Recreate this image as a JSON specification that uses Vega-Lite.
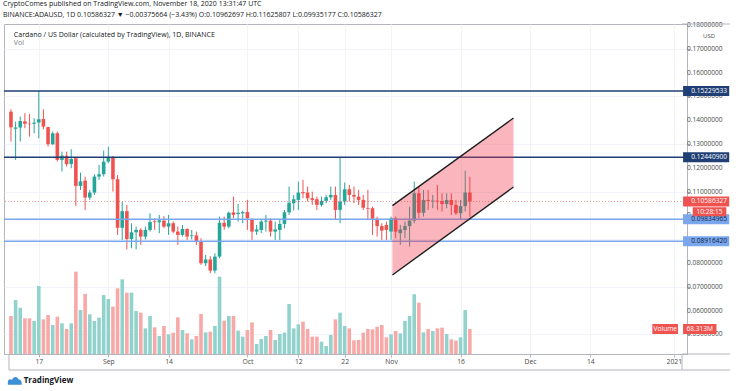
{
  "$schema": "https://vega.github.io/schema/vega-lite/v6.json",
  "width": 683,
  "height": 330,
  "autosize": "none",
  "padding": {"left": 4, "top": 24, "right": 49, "bottom": 37},
  "background": "white",
  "config": {
    "view": {"stroke": "#b2b5be", "strokeWidth": 1},
    "font": "Open Sans",
    "text": {"font": "Open Sans"}
  },
  "title": {
    "text": "CryptoComes published on TradingView.com, November 18, 2020 13:31:47 UTC",
    "subtitle": "BINANCE:ADAUSD, 1D  0.10586327 ▼ −0.00375664 (−3.43%)  O:0.10962697  H:0.11625807  L:0.09935177  C:0.10586327",
    "anchor": "start",
    "frame": "group",
    "font": "Open Sans",
    "fontSize": 7,
    "fontWeight": "normal",
    "color": "#131722",
    "subtitleFont": "Open Sans",
    "subtitleFontSize": 7,
    "subtitleColor": "#131722",
    "subtitlePadding": 3.5,
    "offset": 4,
    "dx": -1
  },
  "datasets": {
    "ohlc": [
      {"d": "2020-08-11", "o": 0.1436, "h": 0.1446, "l": 0.1310, "c": 0.1370, "v": 103.9},
      {"d": "2020-08-12", "o": 0.1364, "h": 0.1394, "l": 0.1233, "c": 0.1369, "v": 147.6},
      {"d": "2020-08-13", "o": 0.1369, "h": 0.1415, "l": 0.1310, "c": 0.1397, "v": 126.6},
      {"d": "2020-08-14", "o": 0.1395, "h": 0.1429, "l": 0.1366, "c": 0.1385, "v": 97.5},
      {"d": "2020-08-15", "o": 0.1385, "h": 0.1426, "l": 0.1331, "c": 0.1383, "v": 97.5},
      {"d": "2020-08-16", "o": 0.1385, "h": 0.1408, "l": 0.1345, "c": 0.1390, "v": 90.2},
      {"d": "2020-08-17", "o": 0.1390, "h": 0.1523, "l": 0.1324, "c": 0.1404, "v": 185.8},
      {"d": "2020-08-18", "o": 0.1405, "h": 0.1446, "l": 0.1362, "c": 0.1373, "v": 94.7},
      {"d": "2020-08-19", "o": 0.1371, "h": 0.1373, "l": 0.1289, "c": 0.1299, "v": 106.6},
      {"d": "2020-08-20", "o": 0.1299, "h": 0.1352, "l": 0.1296, "c": 0.1345, "v": 79.3},
      {"d": "2020-08-21", "o": 0.1345, "h": 0.1352, "l": 0.1226, "c": 0.1233, "v": 102.0},
      {"d": "2020-08-22", "o": 0.1233, "h": 0.1268, "l": 0.1184, "c": 0.1251, "v": 83.8},
      {"d": "2020-08-23", "o": 0.1251, "h": 0.1268, "l": 0.1205, "c": 0.1215, "v": 68.3},
      {"d": "2020-08-24", "o": 0.1216, "h": 0.1278, "l": 0.1198, "c": 0.1237, "v": 83.8},
      {"d": "2020-08-25", "o": 0.1240, "h": 0.1244, "l": 0.1039, "c": 0.1124, "v": 225.0},
      {"d": "2020-08-26", "o": 0.1124, "h": 0.1180, "l": 0.1107, "c": 0.1143, "v": 120.3},
      {"d": "2020-08-27", "o": 0.1146, "h": 0.1163, "l": 0.1023, "c": 0.1075, "v": 164.0},
      {"d": "2020-08-28", "o": 0.1075, "h": 0.1107, "l": 0.1065, "c": 0.1096, "v": 108.4},
      {"d": "2020-08-29", "o": 0.1096, "h": 0.1173, "l": 0.1086, "c": 0.1163, "v": 90.2},
      {"d": "2020-08-30", "o": 0.1163, "h": 0.1212, "l": 0.1149, "c": 0.1173, "v": 99.3},
      {"d": "2020-08-31", "o": 0.1173, "h": 0.1272, "l": 0.1163, "c": 0.1226, "v": 161.2},
      {"d": "2020-09-01", "o": 0.1226, "h": 0.1289, "l": 0.1219, "c": 0.1244, "v": 150.3},
      {"d": "2020-09-02", "o": 0.1244, "h": 0.1250, "l": 0.1100, "c": 0.1152, "v": 129.4},
      {"d": "2020-09-03", "o": 0.1152, "h": 0.1170, "l": 0.0918, "c": 0.0948, "v": 179.5},
      {"d": "2020-09-04", "o": 0.0948, "h": 0.1058, "l": 0.0897, "c": 0.1018, "v": 204.1},
      {"d": "2020-09-05", "o": 0.1018, "h": 0.1044, "l": 0.0857, "c": 0.0901, "v": 167.6},
      {"d": "2020-09-06", "o": 0.0901, "h": 0.0967, "l": 0.0862, "c": 0.0929, "v": 167.6},
      {"d": "2020-09-07", "o": 0.0929, "h": 0.0953, "l": 0.0857, "c": 0.0939, "v": 117.5},
      {"d": "2020-09-08", "o": 0.0939, "h": 0.0946, "l": 0.0876, "c": 0.0911, "v": 113.0},
      {"d": "2020-09-09", "o": 0.0911, "h": 0.0953, "l": 0.0899, "c": 0.0939, "v": 70.1},
      {"d": "2020-09-10", "o": 0.0939, "h": 0.1009, "l": 0.0932, "c": 0.0972, "v": 103.9},
      {"d": "2020-09-11", "o": 0.0975, "h": 0.0988, "l": 0.0939, "c": 0.0972, "v": 72.9},
      {"d": "2020-09-12", "o": 0.0971, "h": 0.1002, "l": 0.0925, "c": 0.0979, "v": 49.2},
      {"d": "2020-09-13", "o": 0.0978, "h": 0.0997, "l": 0.0946, "c": 0.0953, "v": 76.5},
      {"d": "2020-09-14", "o": 0.0953, "h": 0.1002, "l": 0.0918, "c": 0.0967, "v": 53.7},
      {"d": "2020-09-15", "o": 0.0967, "h": 0.0974, "l": 0.0925, "c": 0.0932, "v": 58.3},
      {"d": "2020-09-16", "o": 0.0932, "h": 0.0953, "l": 0.0876, "c": 0.0918, "v": 100.2},
      {"d": "2020-09-17", "o": 0.0918, "h": 0.0960, "l": 0.0911, "c": 0.0943, "v": 65.6},
      {"d": "2020-09-18", "o": 0.0943, "h": 0.0946, "l": 0.0897, "c": 0.0911, "v": 56.5},
      {"d": "2020-09-19", "o": 0.0913, "h": 0.0939, "l": 0.0899, "c": 0.0916, "v": 40.1},
      {"d": "2020-09-20", "o": 0.0916, "h": 0.0932, "l": 0.0876, "c": 0.0892, "v": 49.2},
      {"d": "2020-09-21", "o": 0.0892, "h": 0.0904, "l": 0.0792, "c": 0.0799, "v": 109.3},
      {"d": "2020-09-22", "o": 0.0799, "h": 0.0834, "l": 0.0787, "c": 0.0815, "v": 59.2},
      {"d": "2020-09-23", "o": 0.0815, "h": 0.0829, "l": 0.0757, "c": 0.0768, "v": 61.0},
      {"d": "2020-09-24", "o": 0.0768, "h": 0.0841, "l": 0.0757, "c": 0.0827, "v": 76.5},
      {"d": "2020-09-25", "o": 0.0827, "h": 0.0995, "l": 0.0820, "c": 0.0969, "v": 211.4},
      {"d": "2020-09-26", "o": 0.0969, "h": 0.0995, "l": 0.0939, "c": 0.0953, "v": 91.1},
      {"d": "2020-09-27", "o": 0.0953, "h": 0.1016, "l": 0.0946, "c": 0.1011, "v": 103.9},
      {"d": "2020-09-28", "o": 0.1013, "h": 0.1079, "l": 0.0988, "c": 0.1002, "v": 103.9},
      {"d": "2020-09-29", "o": 0.1006, "h": 0.1048, "l": 0.0974, "c": 0.1011, "v": 63.8},
      {"d": "2020-09-30", "o": 0.1009, "h": 0.1020, "l": 0.0967, "c": 0.1014, "v": 47.4},
      {"d": "2020-10-01", "o": 0.1014, "h": 0.1065, "l": 0.0939, "c": 0.0988, "v": 65.6},
      {"d": "2020-10-02", "o": 0.0983, "h": 0.0988, "l": 0.0897, "c": 0.0932, "v": 86.5},
      {"d": "2020-10-03", "o": 0.0932, "h": 0.0960, "l": 0.0918, "c": 0.0941, "v": 27.3},
      {"d": "2020-10-04", "o": 0.0939, "h": 0.0981, "l": 0.0925, "c": 0.0974, "v": 41.0},
      {"d": "2020-10-05", "o": 0.0974, "h": 0.1002, "l": 0.0932, "c": 0.0978, "v": 49.2},
      {"d": "2020-10-06", "o": 0.0978, "h": 0.0988, "l": 0.0911, "c": 0.0932, "v": 65.6},
      {"d": "2020-10-07", "o": 0.0932, "h": 0.0974, "l": 0.0897, "c": 0.0941, "v": 38.3},
      {"d": "2020-10-08", "o": 0.0939, "h": 0.0981, "l": 0.0897, "c": 0.0964, "v": 54.7},
      {"d": "2020-10-09", "o": 0.0964, "h": 0.1023, "l": 0.0946, "c": 0.1013, "v": 58.3},
      {"d": "2020-10-10", "o": 0.1013, "h": 0.1121, "l": 0.1002, "c": 0.1053, "v": 136.7},
      {"d": "2020-10-11", "o": 0.1051, "h": 0.1086, "l": 0.1020, "c": 0.1068, "v": 70.1},
      {"d": "2020-10-12", "o": 0.1065, "h": 0.1142, "l": 0.1023, "c": 0.1096, "v": 81.1},
      {"d": "2020-10-13", "o": 0.1098, "h": 0.1149, "l": 0.1072, "c": 0.1093, "v": 88.4},
      {"d": "2020-10-14", "o": 0.1096, "h": 0.1121, "l": 0.1058, "c": 0.1072, "v": 68.3},
      {"d": "2020-10-15", "o": 0.1072, "h": 0.1100, "l": 0.1044, "c": 0.1065, "v": 47.4},
      {"d": "2020-10-16", "o": 0.1068, "h": 0.1079, "l": 0.1023, "c": 0.1044, "v": 47.4},
      {"d": "2020-10-17", "o": 0.1044, "h": 0.1079, "l": 0.1037, "c": 0.1061, "v": 33.7},
      {"d": "2020-10-18", "o": 0.1061, "h": 0.1086, "l": 0.1051, "c": 0.1076, "v": 21.9},
      {"d": "2020-10-19", "o": 0.1076, "h": 0.1121, "l": 0.1065, "c": 0.1086, "v": 51.9},
      {"d": "2020-10-20", "o": 0.1086, "h": 0.1121, "l": 0.0983, "c": 0.1023, "v": 94.7},
      {"d": "2020-10-21", "o": 0.1023, "h": 0.1244, "l": 0.0967, "c": 0.1058, "v": 113.0},
      {"d": "2020-10-22", "o": 0.1058, "h": 0.1138, "l": 0.1044, "c": 0.1110, "v": 76.5},
      {"d": "2020-10-23", "o": 0.1110, "h": 0.1128, "l": 0.1058, "c": 0.1086, "v": 70.1},
      {"d": "2020-10-24", "o": 0.1086, "h": 0.1121, "l": 0.1051, "c": 0.1079, "v": 37.4},
      {"d": "2020-10-25", "o": 0.1079, "h": 0.1107, "l": 0.1044, "c": 0.1065, "v": 38.3},
      {"d": "2020-10-26", "o": 0.1065, "h": 0.1086, "l": 0.1023, "c": 0.1032, "v": 58.3},
      {"d": "2020-10-27", "o": 0.1030, "h": 0.1107, "l": 0.0981, "c": 0.1027, "v": 68.3},
      {"d": "2020-10-28", "o": 0.1030, "h": 0.1037, "l": 0.0918, "c": 0.0986, "v": 67.4},
      {"d": "2020-10-29", "o": 0.0986, "h": 0.0995, "l": 0.0911, "c": 0.0955, "v": 74.7},
      {"d": "2020-10-30", "o": 0.0955, "h": 0.0967, "l": 0.0897, "c": 0.0936, "v": 79.3},
      {"d": "2020-10-31", "o": 0.0960, "h": 0.0974, "l": 0.0897, "c": 0.0939, "v": 45.6},
      {"d": "2020-11-01", "o": 0.0932, "h": 0.0995, "l": 0.0897, "c": 0.0988, "v": 53.7},
      {"d": "2020-11-02", "o": 0.0988, "h": 0.0995, "l": 0.0904, "c": 0.0932, "v": 62.9},
      {"d": "2020-11-03", "o": 0.0925, "h": 0.0960, "l": 0.0876, "c": 0.0941, "v": 56.5},
      {"d": "2020-11-04", "o": 0.0939, "h": 0.0974, "l": 0.0904, "c": 0.0955, "v": 90.2},
      {"d": "2020-11-05", "o": 0.0955, "h": 0.1037, "l": 0.0869, "c": 0.0978, "v": 103.9},
      {"d": "2020-11-06", "o": 0.0978, "h": 0.1142, "l": 0.0967, "c": 0.1093, "v": 163.1},
      {"d": "2020-11-07", "o": 0.1093, "h": 0.1121, "l": 0.0988, "c": 0.1011, "v": 140.3},
      {"d": "2020-11-08", "o": 0.1011, "h": 0.1107, "l": 0.0995, "c": 0.1065, "v": 59.2},
      {"d": "2020-11-09", "o": 0.1065, "h": 0.1107, "l": 0.1023, "c": 0.1060, "v": 68.3},
      {"d": "2020-11-10", "o": 0.1059, "h": 0.1086, "l": 0.1030, "c": 0.1062, "v": 62.9},
      {"d": "2020-11-11", "o": 0.1062, "h": 0.1128, "l": 0.1023, "c": 0.1058, "v": 70.1},
      {"d": "2020-11-12", "o": 0.1060, "h": 0.1093, "l": 0.1016, "c": 0.1048, "v": 72.0},
      {"d": "2020-11-13", "o": 0.1048, "h": 0.1093, "l": 0.1030, "c": 0.1065, "v": 54.7},
      {"d": "2020-11-14", "o": 0.1065, "h": 0.1093, "l": 0.1002, "c": 0.1044, "v": 40.1},
      {"d": "2020-11-15", "o": 0.1044, "h": 0.1065, "l": 0.1002, "c": 0.1009, "v": 36.4},
      {"d": "2020-11-16", "o": 0.1009, "h": 0.1065, "l": 0.0981, "c": 0.1039, "v": 45.6},
      {"d": "2020-11-17", "o": 0.1039, "h": 0.1188, "l": 0.1016, "c": 0.1096, "v": 120.3},
      {"d": "2020-11-18", "o": 0.10962697, "h": 0.11625807, "l": 0.09935177, "c": 0.10586327, "v": 68.313}
    ],
    "levels": [
      {"p": 0.15229533, "t": "0.15229533", "k": "dark"},
      {"p": 0.12440900, "t": "0.12440900", "k": "dark"},
      {"p": 0.09834965, "t": "0.09834965", "k": "light"},
      {"p": 0.08916420, "t": "0.08916420", "k": "light"},
      {"p": 0.10586327, "t": "0.10586327", "k": "last"}
    ],
    "ticks": [
      {"p": 0.05, "t": "0.05000000"},
      {"p": 0.06, "t": "0.06000000"},
      {"p": 0.07, "t": "0.07000000"},
      {"p": 0.08, "t": "0.08000000"},
      {"p": 0.10, "t": "0."},
      {"p": 0.11, "t": "0.11000000"},
      {"p": 0.12, "t": "0.12000000"},
      {"p": 0.13, "t": "0.13000000"},
      {"p": 0.14, "t": "0.14000000"},
      {"p": 0.15, "t": "0.15000000"},
      {"p": 0.16, "t": "0.16000000"},
      {"p": 0.17, "t": "0.17000000"},
      {"p": 0.18, "t": "0.18000000"}
    ],
    "channel": [
      {"d": "2020-11-01T07:00:00Z", "lo": 0.07496, "hi": 0.10408},
      {"d": "2020-11-27T10:00:00Z", "lo": 0.11193, "hi": 0.14092}
    ]
  },
  "layer": [
    {
      "data": {"name": "ohlc"},
      "layer": [
        {
          "mark": {"type": "rule", "strokeWidth": 1},
          "encoding": {
            "x": {
              "field": "d", "type": "temporal",
              "scale": {"type": "utc", "domain": [
                {"year": 2020, "month": "aug", "date": 10, "hours": 13, "minutes": 46, "utc": true},
                {"year": 2021, "month": "jan", "date": 2, "hours": 18, "minutes": 30, "utc": true}
              ]},
              "axis": {
                "title": null,
                "values": [
                  {"year": 2020, "month": "aug", "date": 17, "utc": true},
                  {"year": 2020, "month": "sep", "date": 1, "utc": true},
                  {"year": 2020, "month": "sep", "date": 14, "utc": true},
                  {"year": 2020, "month": "oct", "date": 1, "utc": true},
                  {"year": 2020, "month": "oct", "date": 12, "utc": true},
                  {"year": 2020, "month": "oct", "date": 22, "utc": true},
                  {"year": 2020, "month": "nov", "date": 1, "utc": true},
                  {"year": 2020, "month": "nov", "date": 16, "utc": true},
                  {"year": 2020, "month": "dec", "date": 1, "utc": true},
                  {"year": 2020, "month": "dec", "date": 14, "utc": true},
                  {"year": 2021, "month": "jan", "date": 1, "utc": true}
                ],
                "labelExpr": "utcdate(datum.value) == 1 ? (utcmonth(datum.value) == 0 ? utcFormat(datum.value, '%Y') : utcFormat(datum.value, '%b')) : utcFormat(datum.value, '%-d')",
                "labelOverlap": false,
                "grid": true, "gridColor": "#f0f3fa",
                "tickSize": 3, "tickColor": "#b2b5be",
                "domainColor": "#b2b5be",
                "labelFont": "Open Sans", "labelFontSize": 6.8, "labelColor": "#4b4b4b",
                "labelPadding": 1
              }
            },
            "y": {
              "field": "l", "type": "quantitative",
              "scale": {"domain": [0.041765, 0.18042], "nice": false, "zero": false},
              "axis": {
                "title": null, "orient": "right",
                "values": [0.05, 0.06, 0.07, 0.08, 0.09, 0.10, 0.11, 0.12, 0.13, 0.14, 0.15, 0.16, 0.17, 0.18],
                "labels": false,
                "grid": true, "gridColor": "#f0f3fa",
                "tickSize": 3, "tickColor": "#b2b5be",
                "domainColor": "#b2b5be"
              }
            },
            "y2": {"field": "h"},
            "color": {"condition": {"test": "datum.c < datum.o", "value": "#ef5350"}, "value": "#26a69a"}
          }
        },
        {
          "mark": {"type": "bar", "width": 3.6},
          "encoding": {
            "x": {"field": "d", "type": "temporal"},
            "y": {"field": "o", "type": "quantitative"},
            "y2": {"field": "c"},
            "color": {"condition": {"test": "datum.c < datum.o", "value": "#ef5350"}, "value": "#26a69a"}
          }
        },
        {
          "data": {"name": "ticks"},
          "mark": {"type": "text", "fontSize": 6.6, "align": "left", "color": "#4b4b4b"},
          "encoding": {
            "x": {"datum": {"year": 2021, "month": "jan", "date": 3, "hours": 20, "utc": true}, "type": "temporal"},
            "y": {"field": "p", "type": "quantitative"},
            "text": {"field": "t"}
          }
        },
        {
          "data": {"name": "levels"},
          "transform": [{"filter": "datum.k != 'last'"}],
          "mark": {"type": "rule", "strokeWidth": 1.5},
          "encoding": {
            "y": {"field": "p", "type": "quantitative"},
            "color": {"field": "k", "type": "nominal", "scale": {"domain": ["dark", "light", "last"], "range": ["#1f3f75", "#79a6ec", "#ef5350"]}, "legend": null}
          }
        },
        {
          "data": {"values": [{}]},
          "mark": {"type": "rule", "strokeWidth": 1, "strokeDash": [1, 2], "color": "#ef5350", "opacity": 0.6},
          "encoding": {"y": {"datum": 0.10586327, "type": "quantitative"}}
        },
        {
          "data": {"name": "channel"},
          "mark": {"type": "area", "color": "#f23645", "opacity": 0.36},
          "encoding": {
            "x": {"field": "d", "type": "temporal"},
            "y": {"field": "lo", "type": "quantitative"},
            "y2": {"field": "hi"}
          }
        },
        {
          "data": {"name": "channel"},
          "mark": {"type": "line", "color": "#1e1e1e", "strokeWidth": 1.4},
          "encoding": {
            "x": {"field": "d", "type": "temporal"},
            "y": {"field": "hi", "type": "quantitative"}
          }
        },
        {
          "data": {"name": "channel"},
          "mark": {"type": "line", "color": "#1e1e1e", "strokeWidth": 1.4},
          "encoding": {
            "x": {"field": "d", "type": "temporal"},
            "y": {"field": "lo", "type": "quantitative"}
          }
        },
        {
          "data": {"name": "levels"},
          "mark": {"type": "rule", "strokeWidth": 10},
          "encoding": {
            "x": {"datum": {"year": 2021, "month": "jan", "date": 3, "utc": true}, "type": "temporal"},
            "x2": {"datum": {"year": 2021, "month": "jan", "date": 12, "hours": 23, "utc": true}},
            "y": {"field": "p", "type": "quantitative"},
            "color": {"field": "k", "type": "nominal", "legend": null}
          }
        },
        {
          "data": {"name": "levels"},
          "mark": {"type": "text", "fontSize": 6.6, "align": "center"},
          "encoding": {
            "x": {"datum": {"year": 2021, "month": "jan", "date": 8, "hours": 15, "utc": true}, "type": "temporal"},
            "y": {"field": "p", "type": "quantitative"},
            "text": {"field": "t"},
            "color": {"condition": {"test": "datum.k == 'light'", "value": "#0d1f45"}, "value": "#ffffff"}
          }
        },
        {
          "data": {"values": [{}]},
          "mark": {"type": "rule", "strokeWidth": 9, "color": "#ef5350", "yOffset": 10.3},
          "encoding": {
            "x": {"datum": {"year": 2021, "month": "jan", "date": 5, "hours": 2, "utc": true}, "type": "temporal"},
            "x2": {"datum": {"year": 2021, "month": "jan", "date": 12, "hours": 8, "utc": true}},
            "y": {"datum": 0.10586327, "type": "quantitative"}
          }
        },
        {
          "data": {"values": [{}]},
          "mark": {"type": "text", "fontSize": 6.6, "align": "center", "color": "#ffffff", "dy": 10.3},
          "encoding": {
            "x": {"datum": {"year": 2021, "month": "jan", "date": 8, "hours": 17, "utc": true}, "type": "temporal"},
            "y": {"datum": 0.10586327, "type": "quantitative"},
            "text": {"value": "10:28:15"}
          }
        },
        {
          "data": {"values": [{}]},
          "mark": {"type": "text", "fontSize": 7, "align": "left", "color": "#131722"},
          "encoding": {
            "x": {"datum": {"year": 2020, "month": "aug", "date": 11, "hours": 15, "utc": true}, "type": "temporal"},
            "y": {"datum": 0.1758, "type": "quantitative"},
            "text": {"value": "Cardano / US Dollar (calculated by TradingView), 1D, BINANCE"}
          }
        },
        {
          "data": {"values": [{}]},
          "mark": {"type": "text", "fontSize": 7, "align": "left", "color": "#787b86"},
          "encoding": {
            "x": {"datum": {"year": 2020, "month": "aug", "date": 11, "hours": 15, "utc": true}, "type": "temporal"},
            "y": {"datum": 0.17244, "type": "quantitative"},
            "text": {"value": "Vol"}
          }
        },
        {
          "data": {"values": [{}]},
          "mark": {"type": "text", "fontSize": 6, "align": "center", "color": "#4b4b4b"},
          "encoding": {
            "x": {"datum": {"year": 2021, "month": "jan", "date": 8, "hours": 15, "utc": true}, "type": "temporal"},
            "y": {"datum": 0.1755, "type": "quantitative"},
            "text": {"value": "USD"}
          }
        },
        {
          "data": {"values": [{}]},
          "mark": {"type": "text", "fontSize": 8, "fontWeight": "bold", "align": "left", "color": "#131722"},
          "encoding": {
            "x": {"datum": {"year": 2020, "month": "aug", "date": 13, "hours": 18, "utc": true}, "type": "temporal"},
            "y": {"datum": 0.03042, "type": "quantitative"},
            "text": {"value": "TradingView"}
          }
        },
        {
          "data": {"values": [{}]},
          "mark": {"type": "point", "filled": true, "color": "#3d8fd6", "size": 196, "opacity": 1,
                   "shape": "M -1 0.55 L -1 0.15 C -1 -0.25 -0.6 -0.35 -0.4 -0.15 C -0.3 -0.65 0.4 -0.75 0.55 -0.2 C 0.9 -0.25 1 0.2 1 0.55 Z"},
          "encoding": {
            "x": {"datum": {"year": 2020, "month": "aug", "date": 11, "hours": 20, "utc": true}, "type": "temporal"},
            "y": {"datum": 0.03042, "type": "quantitative"}
          }
        },
        {
          "data": {"values": [{}]},
          "mark": {"type": "rule", "color": "#b2b5be", "strokeWidth": 1},
          "encoding": {
            "x": {"datum": {"year": 2020, "month": "aug", "date": 10, "hours": 13, "minutes": 46, "utc": true}, "type": "temporal"},
            "x2": {"datum": {"year": 2021, "month": "jan", "date": 13, "hours": 4, "utc": true}},
            "y": {"datum": 0.035042, "type": "quantitative"}
          }
        },
        {
          "data": {"values": [{}]},
          "mark": {"type": "rule", "color": "#b2b5be", "strokeWidth": 1},
          "encoding": {
            "x": {"datum": {"year": 2021, "month": "jan", "date": 2, "hours": 18, "minutes": 30, "utc": true}, "type": "temporal"},
            "x2": {"datum": {"year": 2021, "month": "jan", "date": 13, "hours": 4, "utc": true}},
            "y": {"datum": 0.041765, "type": "quantitative"}
          }
        },
        {
          "data": {"values": [{}]},
          "mark": {"type": "rule", "color": "#b2b5be", "strokeWidth": 1},
          "encoding": {
            "x": {"datum": {"year": 2021, "month": "jan", "date": 2, "hours": 18, "minutes": 30, "utc": true}, "type": "temporal"},
            "x2": {"datum": {"year": 2021, "month": "jan", "date": 13, "hours": 4, "utc": true}},
            "y": {"datum": 0.18042, "type": "quantitative"}
          }
        },
        {
          "data": {"values": [{}]},
          "mark": {"type": "rule", "color": "#b2b5be", "strokeWidth": 1},
          "encoding": {
            "x": {"datum": {"year": 2021, "month": "jan", "date": 2, "hours": 18, "minutes": 30, "utc": true}, "type": "temporal"},
            "y": {"datum": 0.041765, "type": "quantitative"},
            "y2": {"datum": 0.035042}
          }
        },
        {
          "data": {"values": [{}]},
          "mark": {"type": "rule", "color": "#b2b5be", "strokeWidth": 1},
          "encoding": {
            "x": {"datum": {"year": 2020, "month": "aug", "date": 10, "hours": 13, "minutes": 46, "utc": true}, "type": "temporal"},
            "y": {"datum": 0.041765, "type": "quantitative"},
            "y2": {"datum": 0.035042}
          }
        }
      ]
    },
    {
      "data": {"name": "ohlc"},
      "layer": [
        {
          "mark": {"type": "bar", "width": 3.6},
          "encoding": {
            "x": {"field": "d", "type": "temporal"},
            "y": {"field": "v", "type": "quantitative", "scale": {"domain": [0, 901.7], "nice": false}, "axis": null},
            "color": {"condition": {"test": "datum.c < datum.o", "value": "#f7a9a8"}, "value": "#92d2cc"}
          }
        },
        {
          "data": {"values": [{}]},
          "mark": {"type": "rule", "strokeWidth": 10, "color": "#ef5350"},
          "encoding": {
            "x": {"datum": {"year": 2020, "month": "dec", "date": 27, "hours": 9, "utc": true}, "type": "temporal"},
            "x2": {"datum": {"year": 2021, "month": "jan", "date": 1, "hours": 22, "utc": true}},
            "y": {"datum": 68.313, "type": "quantitative"}
          }
        },
        {
          "data": {"values": [{}]},
          "mark": {"type": "rule", "strokeWidth": 10, "color": "#ef5350"},
          "encoding": {
            "x": {"datum": {"year": 2021, "month": "jan", "date": 3, "utc": true}, "type": "temporal"},
            "x2": {"datum": {"year": 2021, "month": "jan", "date": 10, "hours": 5, "utc": true}},
            "y": {"datum": 68.313, "type": "quantitative"}
          }
        },
        {
          "data": {"values": [{}]},
          "mark": {"type": "text", "fontSize": 6.6, "align": "center", "color": "#ffffff"},
          "encoding": {
            "x": {"datum": {"year": 2020, "month": "dec", "date": 30, "hours": 4, "utc": true}, "type": "temporal"},
            "y": {"datum": 68.313, "type": "quantitative"},
            "text": {"value": "Volume"}
          }
        },
        {
          "data": {"values": [{}]},
          "mark": {"type": "text", "fontSize": 6.6, "align": "center", "color": "#ffffff"},
          "encoding": {
            "x": {"datum": {"year": 2021, "month": "jan", "date": 6, "hours": 14, "utc": true}, "type": "temporal"},
            "y": {"datum": 68.313, "type": "quantitative"},
            "text": {"value": "68.313M"}
          }
        }
      ]
    }
  ],
  "resolve": {"scale": {"y": "independent"}}
}
